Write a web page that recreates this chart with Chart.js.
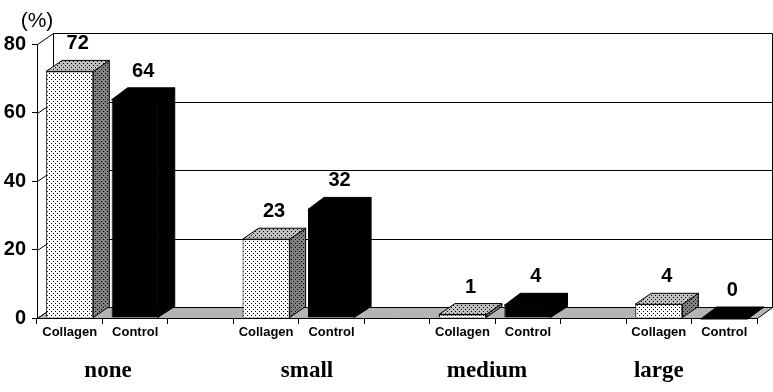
<!DOCTYPE html>
<html>
<head>
<meta charset="utf-8">
<script src="https://cdn.jsdelivr.net/npm/chart.js@4"></script>
<style>
  html, body { margin: 0; padding: 0; background: #fff; }
  #chart { display: block; }
</style>
</head>
<body>
<canvas id="chart" width="773" height="392"></canvas>
<script>
// --- data ---
const categories = ["none", "small", "medium", "large"];
const seriesNames = ["Collagen", "Control"];
const collagen = [72, 23, 1, 4];
const control = [64, 32, 4, 0];
const yTicks = [0, 20, 40, 60, 80];
const yUnit = "(%)";

// depth of the 3D box
const DX = 16;
const DY = -11;

// build slot labels: Collagen, Control, gap ... (no gap after last)
const slotLabels = [];
const collagenSlots = [];
const controlSlots = [];
categories.forEach((c, i) => {
  slotLabels.push(seriesNames[0], seriesNames[1]);
  collagenSlots.push(collagen[i], null);
  controlSlots.push(null, control[i]);
  if (i < categories.length - 1) {
    slotLabels.push("");
    collagenSlots.push(null);
    controlSlots.push(null);
  }
});

function dotPattern(bg) {
  const c = document.createElement("canvas");
  c.width = 4;
  c.height = 4;
  const g = c.getContext("2d");
  g.fillStyle = bg;
  g.fillRect(0, 0, 4, 4);
  g.fillStyle = "#000";
  g.fillRect(1, 1, 1, 1);
  g.fillRect(3, 3, 1, 1);
  return g.createPattern(c, "repeat");
}

const frontDots = dotPattern("#ffffff");
const topDots = dotPattern("#c0c0c0");
const sideDots = dotPattern("#808080");

// walls, floor and back grid
const boxPlugin = {
  id: "box3d",
  beforeDatasetsDraw(chart) {
    const { ctx, chartArea: a, scales } = chart;
    const y = scales.y;
    ctx.save();
    ctx.strokeStyle = "#000";
    ctx.lineWidth = 1;
    // back grid lines + left wall diagonals
    yTicks.forEach((t) => {
      const py = Math.round(y.getPixelForValue(t)) + 0.5;
      ctx.beginPath();
      ctx.moveTo(a.left + 0.5, py);
      ctx.lineTo(a.left + DX + 0.5, py + DY);
      if (t > 0) ctx.lineTo(a.right + DX - 0.5, py + DY);
      ctx.stroke();
    });
    // back-left vertical and right edge
    const topY = Math.round(y.getPixelForValue(yTicks[yTicks.length - 1])) + 0.5 + DY;
    const botY = Math.round(y.getPixelForValue(0)) + 0.5 + DY;
    ctx.beginPath();
    ctx.moveTo(a.left + DX + 0.5, topY);
    ctx.lineTo(a.left + DX + 0.5, botY);
    ctx.moveTo(a.right + DX - 0.5, topY);
    ctx.lineTo(a.right + DX - 0.5, botY);
    ctx.stroke();
    // floor
    const fy = Math.round(y.getPixelForValue(0)) + 0.5;
    ctx.beginPath();
    ctx.moveTo(a.left + 0.5, fy);
    ctx.lineTo(a.right + 0.5, fy);
    ctx.lineTo(a.right + DX - 0.5, fy + DY);
    ctx.lineTo(a.left + DX + 0.5, fy + DY);
    ctx.closePath();
    ctx.fillStyle = "#b4b4b4";
    ctx.fill();
    ctx.stroke();
    ctx.restore();
  },
  afterDatasetsDraw(chart) {
    const { ctx, chartArea: a } = chart;
    ctx.save();
    ctx.lineWidth = 1;
    ctx.strokeStyle = "#000";
    chart.data.datasets.forEach((ds, di) => {
      const meta = chart.getDatasetMeta(di);
      meta.data.forEach((bar, i) => {
        const v = ds.data[i];
        if (v === null || v === undefined) return;
        const { x, y, base, width } = bar.getProps(["x", "y", "base", "width"], true);
        const l = x - width / 2;
        const r = x + width / 2;
        const solid = di === 1;
        const ov = solid ? 1 : 0;
        // side
        ctx.beginPath();
        ctx.moveTo(r - ov, y);
        ctx.lineTo(r + DX, y + DY);
        ctx.lineTo(r + DX, base + DY);
        ctx.lineTo(r - ov, base);
        ctx.closePath();
        ctx.fillStyle = solid ? "#000" : sideDots;
        ctx.fill();
        ctx.stroke();
        // top
        ctx.beginPath();
        ctx.moveTo(l, y + ov);
        ctx.lineTo(l + DX, y + DY);
        ctx.lineTo(r + DX, y + DY);
        ctx.lineTo(r, y + ov);
        ctx.closePath();
        ctx.fillStyle = solid ? "#000" : topDots;
        ctx.fill();
        ctx.stroke();
        // value label
        ctx.fillStyle = "#000";
        ctx.font = "bold 20px 'Liberation Sans', Arial, sans-serif";
        ctx.textAlign = "center";
        ctx.textBaseline = "alphabetic";
        ctx.fillText(String(v), x + DX / 2, y + DY - 11);
      });
    });
    // category names under each group
    const slotW = (a.right - a.left) / slotLabels.length;
    const catPos = [1.085, 4.125, 6.875, 9.5];
    ctx.font = "bold 23px 'Liberation Serif', 'Times New Roman', serif";
    ctx.textAlign = "center";
    ctx.textBaseline = "alphabetic";
    categories.forEach((c, i) => {
      ctx.fillText(c, a.left + slotW * catPos[i], 377);
    });
    // unit
    ctx.font = "21px 'Liberation Sans', Arial, sans-serif";
    ctx.fillText(yUnit, 37, 27);
    ctx.restore();
  },
};

new Chart(document.getElementById("chart"), {
  type: "bar",
  data: {
    labels: slotLabels,
    datasets: [
      {
        label: seriesNames[0],
        data: collagenSlots,
        backgroundColor: frontDots,
        borderColor: "#000",
        borderWidth: 1,
        grouped: false,
        barPercentage: 0.72,
        categoryPercentage: 1,
      },
      {
        label: seriesNames[1],
        data: controlSlots,
        backgroundColor: "#000",
        borderColor: "#000",
        borderWidth: 1,
        grouped: false,
        barPercentage: 0.72,
        categoryPercentage: 1,
      },
    ],
  },
  options: {
    responsive: false,
    animation: false,
    layout: { padding: { top: 44, right: 16, left: 0, bottom: 0 } },
    plugins: { legend: { display: false }, tooltip: { enabled: false } },
    scales: {
      x: {
        afterFit: (s) => { s.height = 74; },
        grid: { display: true, drawOnChartArea: false, drawTicks: true, tickLength: 6, color: "#000", offset: true },
        border: { display: true, color: "#000" },
        ticks: {
          autoSkip: false,
          maxRotation: 0,
          padding: 1,
          color: "#000",
          font: { family: "'Liberation Sans', Arial, sans-serif", size: 13, weight: "bold" },
        },
      },
      y: {
        min: 0,
        max: 80,
        afterFit: (s) => { s.width = 37; },
        afterBuildTicks: (s) => { s.ticks = yTicks.map((v) => ({ value: v })); },
        grid: { display: true, drawOnChartArea: false, drawTicks: true, tickLength: 5, color: "#000" },
        border: { display: true, color: "#000" },
        ticks: {
          padding: 6,
          color: "#000",
          font: { family: "'Liberation Sans', Arial, sans-serif", size: 20, weight: "bold" },
        },
      },
    },
  },
  plugins: [boxPlugin],
});
</script>
</body>
</html>
